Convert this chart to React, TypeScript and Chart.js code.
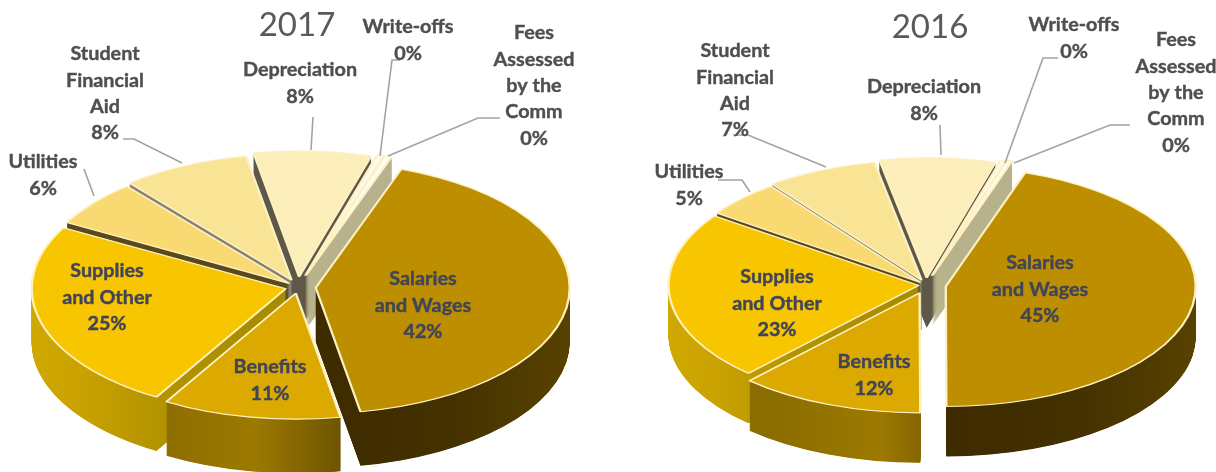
import React, { useEffect, useRef } from "react";
import { Chart, registerables } from "chart.js";

Chart.register(...registerables);

const categories = [
  "Salaries and Wages",
  "Benefits",
  "Supplies and Other",
  "Utilities",
  "Student Financial Aid",
  "Depreciation",
  "Write-offs",
  "Fees Assessed by the Comm",
];
const values2017 = [42, 11.4, 24.7, 6, 8.2, 7.5, 0.45, 0.45];
const values2016 = [45, 12, 23, 5, 7.2, 7.5, 0.35, 0.35];
const topColors = ["#bc8e00", "#dca900", "#f8c600", "#f9da72", "#f9e495", "#fbeebb", "#fffaf0", "#fffcf4"];
const wallStops: [number, string][][] = [
  [[0, "#3a2800"], [0.6, "#3f2d00"], [0.78, "#453200"], [1, "#584200"]],
  [[0.2, "#8a6c00"], [0.42, "#9c7900"], [0.6, "#6b5200"]],
  [[0, "#cfa800"], [0.1, "#c9a200"], [0.25, "#b39300"], [0.6, "#a08800"]],
  [[0, "#5a4a1a"], [1, "#5a4a1a"]],
  [[0, "#8a8070"], [1, "#8a8070"]],
  [[0, "#5f5848"], [1, "#5f5848"]],
  [[0, "#c2b98a"], [1, "#c2b98a"]],
  [[0, "#b8b28c"], [1, "#b8b28c"]],
];

const OUT = "#4f4f4f";
const IN = "#404558";

type Label = { x: number; y: number; lines: string[]; color: string };
type Spec = {
  title: string;
  titleTop: number;
  left: number;
  width: number;
  values: number[];
  rotation: number;
  cx: number;
  cy: number;
  rx: number;
  ry: number;
  depth: number;
  explode: number[];
  labels: Label[];
  leaders: number[][];
};

const pct = (v: number) => `${Math.round(v)}%`;

const spec2017: Spec = {
  title: "2017",
  titleTop: 6,
  left: 0,
  width: 594,
  values: values2017,
  rotation: 19.7,
  cx: 298,
  cy: 287,
  rx: 254,
  ry: 126,
  depth: 54,
  explode: [0.07, 0.05, 0.05, 0.045, 0.06, 0.08, 0.095, 0.1],
  labels: [
    { x: 423, y: 279, lines: ["Salaries", "and Wages", pct(values2017[0])], color: IN },
    { x: 270, y: 367, lines: ["Benefits", pct(values2017[1])], color: IN },
    { x: 107, y: 271, lines: ["Supplies", "and Other", pct(values2017[2])], color: IN },
    { x: 43, y: 162, lines: ["Utilities", pct(values2017[3])], color: OUT },
    { x: 105, y: 54, lines: ["Student", "Financial", "Aid", pct(values2017[4])], color: OUT },
    { x: 300, y: 70, lines: ["Depreciation", pct(values2017[5])], color: OUT },
    { x: 408, y: 27, lines: ["Write-offs", pct(values2017[6])], color: OUT },
    { x: 534, y: 33, lines: ["Fees", "Assessed", "by the", "Comm", pct(values2017[7])], color: OUT },
  ],
  leaders: [
    [84, 169, 94, 196],
    [123, 139, 134, 139, 182, 163],
    [313, 117, 311, 150],
    [400, 60, 392, 60, 380, 156],
    [500, 118, 478, 118, 388, 156],
  ],
};

const spec2016: Spec = {
  title: "2016",
  titleTop: 8,
  left: 644,
  width: 572,
  values: values2016,
  rotation: 18.5,
  cx: 926,
  cy: 285,
  rx: 250,
  ry: 120,
  depth: 50,
  explode: [0.08, 0.07, 0.03, 0.03, 0.043, 0.06, 0.08, 0.09],
  labels: [
    { x: 1040, y: 263, lines: ["Salaries", "and Wages", pct(values2016[0])], color: IN },
    { x: 874, y: 362, lines: ["Benefits", pct(values2016[1])], color: IN },
    { x: 777, y: 277, lines: ["Supplies", "and Other", pct(values2016[2])], color: IN },
    { x: 689, y: 172, lines: ["Utilities", pct(values2016[3])], color: OUT },
    { x: 735, y: 51, lines: ["Student", "Financial", "Aid", pct(values2016[4])], color: OUT },
    { x: 924, y: 87, lines: ["Depreciation", pct(values2016[5])], color: OUT },
    { x: 1074, y: 25, lines: ["Write-offs", pct(values2016[6])], color: OUT },
    { x: 1176, y: 40, lines: ["Fees", "Assessed", "by the", "Comm", pct(values2016[7])], color: OUT },
  ],
  leaders: [
    [718, 180, 742, 180, 750, 192],
    [733, 135, 748, 135, 826, 167],
    [940, 125, 941, 155],
    [1058, 58, 1043, 58, 1005, 163],
    [1130, 125, 1110, 125, 1014, 163],
  ],
};

const FONT = "bold 19.8px Lato";
const LINE = 26.3;

function makePlugin(s: Spec) {
  return {
    id: "tilted",
    beforeDatasetDraw(chart: any, args: any) {
      const ctx = chart.ctx;
      const arcs = chart.getDatasetMeta(args.index).data as any[];
      const R = arcs[0].outerRadius;
      const place = (arc: any, i: number, drop: number) => {
        const mid = (arc.startAngle + arc.endAngle) / 2;
        const e = s.explode[i];
        ctx.translate(
          s.cx - s.left + Math.cos(mid) * e * s.rx,
          s.cy + Math.sin(mid) * e * s.ry + drop
        );
        ctx.scale(s.rx / R, s.ry / R);
        ctx.translate(-arc.x, -arc.y);
      };
      const order = arcs
        .map((a, i) => ({ i, k: Math.sin((a.startAngle + a.endAngle) / 2) }))
        .sort((p, q) => p.k - q.k);
      for (const { i } of order) {
        const arc = arcs[i];
        const g = ctx.createLinearGradient(arc.x - R, 0, arc.x + R, 0);
        wallStops[i].forEach(([p, c]) => g.addColorStop(p, c));
        const wall = Object.create(arc);
        wall.options = {
          backgroundColor: g,
          borderColor: g,
          borderWidth: 0,
          borderAlign: "center",
          borderRadius: 0,
          offset: 0,
          spacing: 0,
          circular: true,
        };
        for (let d = s.depth; d > 0; d -= 0.5) {
          ctx.save();
          place(arc, i, d);
          wall.draw(ctx);
          ctx.restore();
        }
      }
      arcs.forEach((arc, i) => {
        ctx.save();
        place(arc, i, 0);
        arc.draw(ctx);
        ctx.restore();
      });
      return false;
    },
    afterDatasetsDraw(chart: any) {
      const ctx = chart.ctx;
      ctx.save();
      ctx.strokeStyle = "#a3a3a3";
      ctx.lineWidth = 1.6;
      for (const l of s.leaders) {
        ctx.beginPath();
        ctx.moveTo(l[0] - s.left, l[1]);
        for (let j = 2; j < l.length; j += 2) ctx.lineTo(l[j] - s.left, l[j + 1]);
        ctx.stroke();
      }
      ctx.font = FONT;
      ctx.textAlign = "center";
      ctx.textBaseline = "middle";
      ctx.lineWidth = 0.4;
      for (const lb of s.labels) {
        ctx.fillStyle = lb.color;
        ctx.strokeStyle = lb.color;
        lb.lines.forEach((t, j) => {
          ctx.fillText(t, lb.x - s.left, lb.y + j * LINE);
          ctx.strokeText(t, lb.x - s.left, lb.y + j * LINE);
        });
      }
      ctx.restore();
    },
  };
}

function Pie({ spec }: { spec: Spec }) {
  const ref = useRef<HTMLCanvasElement>(null);
  useEffect(() => {
    const chart = new Chart(ref.current!, {
      type: "pie",
      data: {
        labels: categories,
        datasets: [
          {
            data: spec.values,
            backgroundColor: topColors,
            borderColor: "#fdf1c2",
            borderWidth: 2,
          },
        ],
      },
      options: {
        responsive: false,
        animation: false,
        rotation: spec.rotation,
        plugins: {
          legend: { display: false },
          tooltip: { enabled: false },
          title: {
            display: true,
            text: spec.title,
            color: "#595959",
            font: { family: "Lato", size: 33, weight: "400", lineHeight: 1.2 },
            padding: { top: spec.titleTop, bottom: 0 },
          },
        },
      },
      plugins: [makePlugin(spec)],
    } as any);
    return () => chart.destroy();
  }, [spec]);
  return (
    <canvas
      ref={ref}
      width={spec.width}
      height={472}
      style={{ position: "absolute", left: spec.left, top: 0, width: spec.width, height: 472, display: "block" }}
    />
  );
}

export default function App() {
  return (
    <div style={{ position: "absolute", left: 0, top: 0, width: 1216, height: 472, overflow: "hidden", background: "#fff" }}>
      <Pie spec={spec2017} />
      <Pie spec={spec2016} />
    </div>
  );
}
